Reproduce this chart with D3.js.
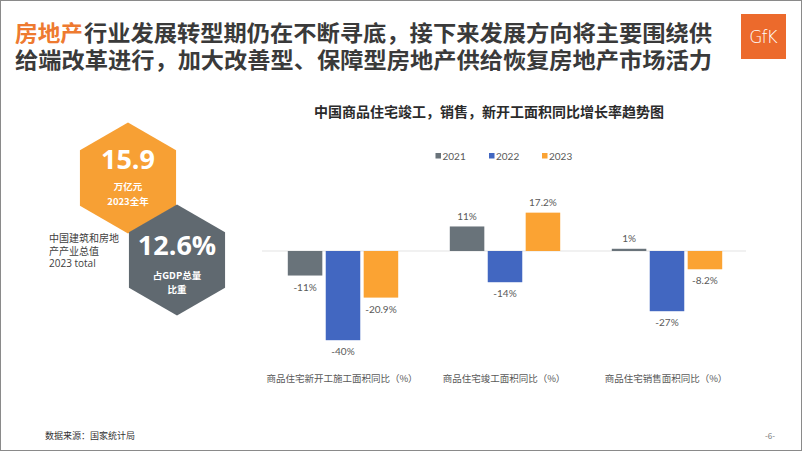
<!DOCTYPE html>
<html><head><meta charset="utf-8">
<script src="https://cdn.jsdelivr.net/npm/d3@7/dist/d3.min.js"></script>
<style>
html,body{margin:0;padding:0;background:#fff;}
svg{display:block;}
</style></head>
<body>
<svg id="c" width="802" height="451"></svg>
<script>
const categories = ["商品住宅新开工施工面积同比（%）", "商品住宅竣工面积同比（%）", "商品住宅销售面积同比（%）"];
const years = ["2021", "2022", "2023"];
const values2021 = [-11, 11, 1];
const values2022 = [-40, -14, -27];
const values2023 = [-20.9, 17.2, -8.2];
const labels2021 = ["-11%", "11%", "1%"];
const labels2022 = ["-40%", "-14%", "-27%"];
const labels2023 = ["-20.9%", "17.2%", "-8.2%"];
const colors = {"2021": "#69737a", "2022": "#4267c1", "2023": "#fba333"};

const series = {"2021": values2021, "2022": values2022, "2023": values2023};
const seriesLabels = {"2021": labels2021, "2022": labels2022, "2023": labels2023};

const svg = d3.select("#c");
const CJK = "'Noto Sans CJK SC', 'Noto Sans', sans-serif";
const LAT = "Lato, 'Noto Sans CJK SC', sans-serif";

// border
svg.append("rect").attr("x",0.5).attr("y",0.5).attr("width",801).attr("height",450)
  .attr("fill","#fff").attr("stroke","#8a8a8a").attr("stroke-width",1);

// header
const hdr = (x,y,len,fill,t)=>svg.append("text").attr("x",x).attr("y",y).attr("font-family",LAT)
  .attr("font-weight","bold").attr("font-size",22).attr("fill",fill)
  .attr("textLength",len).attr("lengthAdjust","spacingAndGlyphs").text(t);
hdr(15,41,68,"#ee7a30","房地产");
hdr(84,41,628,"#3a3a3a","行业发展转型期仍在不断寻底，接下来发展方向将主要围绕供");
hdr(15,68,697,"#3a3a3a","给端改革进行，加大改善型、保障型房地产供给恢复房地产市场活力");

// logo
svg.append("rect").attr("x",741).attr("y",14).attr("width",45).attr("height",45).attr("fill","#ec6a2c");
svg.append("text").attr("x",763).attr("y",43).attr("text-anchor","middle")
  .attr("font-family","'DejaVu Sans', sans-serif").attr("font-size",17).attr("font-weight","300")
  .attr("fill","#fff").attr("letter-spacing",-1).text("GfK");

// hexagons
function hex(cx, cy, R){
  const pts=[];
  for(let i=0;i<6;i++){const a=Math.PI/180*(60*i-90);pts.push([cx+R*Math.cos(a),cy+R*Math.sin(a)]);}
  return "M"+pts.map(p=>p.join(",")).join("L")+"Z";
}
svg.append("path").attr("d",hex(128,178,55.5)).attr("fill","#f7a034");
svg.append("path").attr("d",hex(177,260,55.5)).attr("fill","#606970");

const white = (x,y,s,t,f)=>svg.append("text").attr("x",x).attr("y",y).attr("text-anchor","middle")
  .attr("font-family",f||CJK).attr("font-weight","bold").attr("font-size",s).attr("fill","#fff").text(t);
white(128,169,27,"15.9","'Open Sans', sans-serif");
white(128,190,9.5,"万亿元");
white(128,204.5,9.5,"2023全年");
white(177,255,27,"12.6%","'Open Sans', sans-serif");
white(177,278.5,9.5,"占GDP总量");
white(177,293,9.5,"比重");

// left label
const lt = ["中国建筑和房地","产产业总值","2023 total"];
lt.forEach((t,i)=>svg.append("text").attr("x",49).attr("y",242+i*12.5)
  .attr("font-family","'Open Sans', 'Noto Sans CJK SC', sans-serif").attr("font-size",10)
  .attr("fill","#404040").text(t));

// chart title
svg.append("text").attr("x",489).attr("y",117).attr("text-anchor","middle")
  .attr("font-family",CJK).attr("font-weight","bold").attr("font-size",14).attr("fill","#2b2b2b")
  .text("中国商品住宅竣工，销售，新开工面积同比增长率趋势图");

// legend
const legendX = [435.5, 489, 542];
years.forEach((yr,i)=>{
  svg.append("rect").attr("x",legendX[i]).attr("y",153).attr("width",5.5).attr("height",5.5).attr("fill",colors[yr]);
  svg.append("text").attr("x",legendX[i]+7).attr("y",160).attr("font-family",LAT)
    .attr("font-size",10).attr("fill","#595959").text(yr);
});

// scales
const x0 = d3.scaleBand().domain(categories).range([262,748]).padding(0);
const x1 = d3.scaleBand().domain(years).range([0,x0.bandwidth()]).paddingInner(0.09).paddingOuter(0.68);
const y = d3.scaleLinear().domain([-40,20]).range([340.2,206.4]);

// zero line
svg.append("line").attr("x1",262).attr("x2",746).attr("y1",y(0)).attr("y2",y(0))
  .attr("stroke","#e3e3e3").attr("stroke-width",1);

const data = [];
categories.forEach((c,ci)=>years.forEach(yr=>data.push({c, yr, v: series[yr][ci], l: seriesLabels[yr][ci]})));

const g = svg.append("g");
g.selectAll("rect.bar").data(data).enter().append("rect").attr("class","bar")
  .attr("x",d=>x0(d.c)+x1(d.yr)).attr("width",x1.bandwidth())
  .attr("y",d=>y(Math.max(0,d.v))).attr("height",d=>Math.abs(y(d.v)-y(0)))
  .attr("fill",d=>colors[d.yr]);

g.selectAll("text.lbl").data(data).enter().append("text").attr("class","lbl")
  .attr("x",d=>x0(d.c)+x1(d.yr)+x1.bandwidth()/2)
  .attr("y",d=>d.v>=0 ? y(d.v)-6.5 : y(d.v)+15)
  .attr("text-anchor","middle").attr("font-family",LAT).attr("font-size",10).attr("fill","#595959")
  .text(d=>d.l);

// category axis labels
svg.append("g").selectAll("text").data(categories).enter().append("text")
  .attr("x",d=>x0(d)+x0.bandwidth()/2-1).attr("y",382).attr("text-anchor","middle")
  .attr("font-family",CJK).attr("font-size",9.5).attr("fill","#595959").text(d=>d);

// footer
svg.append("text").attr("x",45).attr("y",439).attr("font-family",CJK).attr("font-size",9)
  .attr("fill","#333").text("数据来源：国家统计局");
svg.append("text").attr("x",770).attr("y",439).attr("text-anchor","middle").attr("font-family",CJK)
  .attr("font-size",8).attr("fill","#777").text("-6-");
</script>
</body></html>
